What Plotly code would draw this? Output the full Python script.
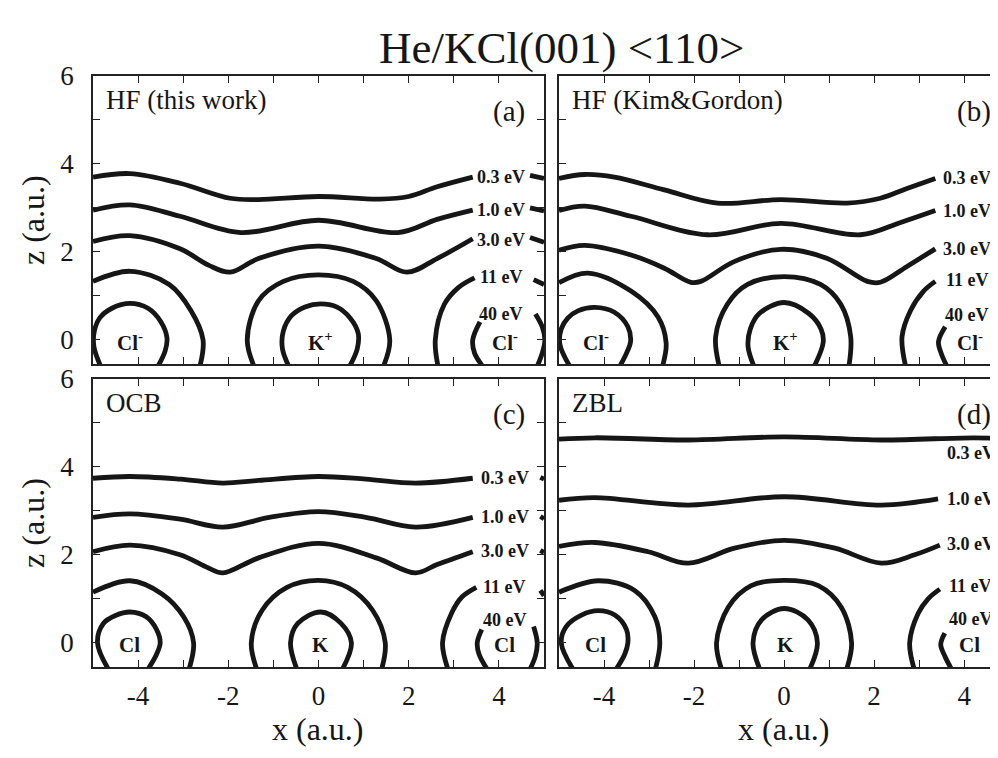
import plotly.graph_objects as go

# ---------------- data (x, z in a.u.) ----------------
X_TICKS = [-4, -2, 0, 2, 4]
X_TICKTEXT = ['-4', '-2', '0', '2', '4']
X_MINOR = [-3, -1, 1, 3]
Z_TICKS = [0, 2, 4, 6]
Z_TICKTEXT = ['0', '2', '4', '6']
Z_MINOR = [1, 3, 5]

ENERGY_LABELS = ['0.3 eV', '1.0 eV', '3.0 eV', '11 eV', '40 eV']
PANEL_NAMES = ['HF (this work)', 'HF (Kim&Gordon)', 'OCB', 'ZBL']
PANEL_TAGS = ['(a)', '(b)', '(c)', '(d)']
IONS_CHARGED = ['Cl<sup>-</sup>', 'K<sup>+</sup>', 'Cl<sup>-</sup>']
IONS_NEUTRAL = ['Cl', 'K', 'Cl']
ION_X = [-4.18, 0.04, 4.13]

# Panel (a) HF (this work)
A_E03 = [(-5.0, 3.70), (-4.18, 3.78), (-3.07, 3.56), (-1.96, 3.22), (-1.33, 3.19), (0.0, 3.26),
         (1.36, 3.20), (2.0, 3.26), (2.63, 3.48), (3.42, 3.70)]
A_E03_END = [(4.69, 3.74), (5.0, 3.67)]
A_E1 = [(-5.0, 2.95), (-4.18, 3.07), (-3.07, 2.81), (-1.73, 2.44), (0.0, 2.72), (1.76, 2.44),
        (2.63, 2.74), (3.42, 2.95)]
A_E1_END = [(4.69, 3.0), (5.0, 2.93)]
A_E3 = [(-5.0, 2.24), (-4.18, 2.37), (-3.07, 2.07), (-2.44, 1.70), (-1.96, 1.54), (-1.33, 1.85),
        (0.0, 2.13), (1.28, 1.85), (1.96, 1.54), (2.63, 1.85), (3.42, 2.30)]
A_E3_END = [(4.69, 2.33), (5.0, 2.22)]
A_E11_L = [(-5.0, 1.33), (-4.18, 1.56), (-3.31, 1.26), (-2.83, 0.67), (-2.56, 0.0), (-2.63, -0.6)]
A_E11_K = [(-1.43, -0.6), (-1.58, 0.0), (-1.33, 0.89), (-0.78, 1.33), (0.0, 1.48), (0.77, 1.33),
           (1.28, 0.89), (1.58, 0.0), (1.44, -0.6)]
A_E11_R = [(2.65, -0.6), (2.59, 0.0), (2.79, 0.81), (3.10, 1.19), (3.46, 1.41)]
A_E11_END = [(4.77, 1.37), (5.0, 1.26)]
A_E40_L = [(-4.83, -0.6), (-4.98, -0.15), (-4.97, 0.2), (-4.85, 0.5), (-4.58, 0.72), (-4.18, 0.83),
           (-3.78, 0.72), (-3.5, 0.42), (-3.36, 0.05), (-3.4, -0.25), (-3.56, -0.6)]
A_E40_K = [(-0.66, -0.6), (-0.8, -0.2), (-0.78, 0.2), (-0.6, 0.55), (-0.3, 0.75), (0.05, 0.82),
           (0.4, 0.75), (0.7, 0.5), (0.88, 0.15), (0.86, -0.2), (0.69, -0.6)]
A_E40_R1 = [(3.58, 0.41), (3.42, 0.0), (3.46, -0.3), (3.64, -0.6)]
A_E40_R2 = [(4.81, 0.59), (4.96, 0.3), (5.02, 0.0), (4.96, -0.3), (4.85, -0.6)]
A_LABEL_X = 4.05
A_LABEL_Z = [3.70, 2.96, 2.27, 1.44, 0.59]

# Panel (b) HF (Kim&Gordon)
B_E03 = [(-5.0, 3.67), (-4.43, 3.76), (-3.77, 3.70), (-2.66, 3.41), (-1.48, 3.11), (-0.07, 3.19),
         (1.40, 3.11), (2.14, 3.22), (2.73, 3.44), (3.36, 3.67)]
B_E03_END = [(4.69, 3.70), (4.95, 3.64)]
B_E1 = [(-5.0, 2.94), (-4.43, 3.04), (-3.4, 2.81), (-1.70, 2.39), (-0.07, 2.65), (1.70, 2.39),
        (2.59, 2.67), (3.36, 2.94)]
B_E1_END = [(4.69, 2.96), (4.95, 2.90)]
B_E3 = [(-5.0, 2.04), (-4.43, 2.15), (-3.4, 1.93), (-2.66, 1.63), (-2.07, 1.31), (-1.85, 1.33),
        (-1.11, 1.78), (-0.07, 2.06), (0.96, 1.85), (1.85, 1.33), (2.14, 1.31), (2.73, 1.67),
        (3.36, 2.07)]
B_E3_END = [(4.69, 2.07), (4.95, 2.0)]
B_E11_L = [(-5.0, 1.30), (-4.36, 1.52), (-3.4, 1.11), (-2.8, 0.52), (-2.62, -0.07), (-2.7, -0.6)]
B_E11_K = [(-1.44, -0.6), (-1.52, 0.07), (-1.26, 0.81), (-0.81, 1.26), (0.0, 1.44), (0.81, 1.26),
           (1.26, 0.81), (1.48, 0.07), (1.44, -0.6)]
B_E11_R = [(2.70, -0.6), (2.62, 0.07), (2.81, 0.67), (3.1, 1.11), (3.36, 1.33)]
B_E11_END = [(4.69, 1.41), (4.95, 1.28)]
B_E40_L = [(-4.76, -0.6), (-4.98, -0.1), (-4.95, 0.25), (-4.8, 0.5), (-4.58, 0.66), (-4.21, 0.74),
           (-3.77, 0.63), (-3.47, 0.3), (-3.41, -0.04), (-3.5, -0.3), (-3.65, -0.6)]
B_E40_K = [(-0.67, -0.6), (-0.8, -0.15), (-0.75, 0.25), (-0.55, 0.6), (0.0, 0.85), (0.55, 0.6),
           (0.82, 0.25), (0.87, -0.05), (0.67, -0.6)]
B_E40_R1 = [(3.58, 0.30), (3.43, -0.04), (3.5, -0.33), (3.62, -0.6)]
B_E40_R2 = [(4.77, 0.52), (4.91, 0.15), (4.93, -0.2), (4.85, -0.6)]
B_LABEL_X = 4.07
B_LABEL_Z = [3.67, 2.94, 2.07, 1.37, 0.56]

# Panel (c) OCB
C_E03 = [(-5.0, 3.74), (-4.18, 3.78), (-3.07, 3.72), (-2.12, 3.63), (-1.33, 3.69), (0.0, 3.78),
         (1.05, 3.72), (2.15, 3.63), (3.42, 3.74)]
C_E03_END = [(4.92, 3.76), (5.0, 3.72)]
C_E1 = [(-5.0, 2.85), (-4.18, 2.93), (-3.07, 2.81), (-2.12, 2.63), (-1.09, 2.85), (0.0, 2.98),
        (1.05, 2.85), (2.15, 2.63), (3.42, 2.85)]
C_E1_END = [(4.92, 2.87), (5.0, 2.82)]
C_E3 = [(-5.0, 2.07), (-4.18, 2.22), (-3.07, 2.0), (-2.44, 1.70), (-2.12, 1.59), (-1.33, 1.93),
        (0.0, 2.26), (1.28, 1.93), (2.15, 1.59), (2.63, 1.78), (3.42, 2.07)]
C_E3_END = [(4.92, 2.10), (5.0, 2.05)]
C_E11_L = [(-5.0, 1.15), (-4.18, 1.41), (-3.47, 1.11), (-2.99, 0.59), (-2.77, 0.0), (-2.87, -0.6)]
C_E11_K = [(-1.37, -0.6), (-1.49, 0.0), (-1.25, 0.74), (-0.7, 1.26), (0.0, 1.42), (0.65, 1.26),
           (1.2, 0.74), (1.48, 0.0), (1.4, -0.6)]
C_E11_R = [(2.87, -0.6), (2.75, 0.0), (2.95, 0.67), (3.18, 1.04), (3.5, 1.26)]
C_E11_END = [(4.92, 1.19), (5.0, 1.07)]
C_E40_L = [(-4.66, -0.6), (-4.9, 0.0), (-4.77, 0.44), (-4.5, 0.62), (-4.18, 0.70), (-3.82, 0.59),
           (-3.59, 0.3), (-3.51, 0.0), (-3.59, -0.26), (-3.78, -0.6)]
C_E40_K = [(-0.48, -0.6), (-0.62, 0.0), (-0.46, 0.44), (0.05, 0.70), (0.5, 0.44), (0.73, 0.0),
           (0.53, -0.6)]
C_E40_R1 = [(3.62, 0.3), (3.52, 0.0), (3.56, -0.26), (3.74, -0.6)]
C_E40_R2 = [(4.77, 0.37), (4.85, 0.0), (4.81, -0.3), (4.69, -0.6)]
C_LABEL_X = 4.13
C_LABEL_Z = [3.74, 2.85, 2.09, 1.26, 0.52]

# Panel (d) ZBL
D_E03 = [(-5.0, 4.63), (-4.2, 4.66), (-2.13, 4.61), (0.0, 4.68), (2.16, 4.61), (4.2, 4.66),
         (4.93, 4.64)]
D_E1 = [(-5.0, 3.24), (-4.21, 3.30), (-2.13, 3.13), (0.0, 3.32), (2.16, 3.13), (3.42, 3.27)]
D_E1_END = [(4.85, 3.27), (4.93, 3.26)]
D_E3 = [(-5.0, 2.19), (-4.21, 2.28), (-3.02, 2.07), (-2.13, 1.81), (-1.1, 2.15), (0.0, 2.33),
        (1.13, 2.15), (2.16, 1.81), (2.9, 2.0), (3.46, 2.22)]
D_E3_END = [(4.85, 2.24), (4.93, 2.20)]
D_E11_L = [(-5.0, 1.15), (-4.13, 1.41), (-3.32, 1.19), (-2.87, 0.59), (-2.76, 0.0), (-2.86, -0.6)]
D_E11_K = [(-1.39, -0.6), (-1.5, 0.0), (-1.24, 0.81), (-0.73, 1.3), (0.0, 1.42), (0.76, 1.3),
           (1.27, 0.81), (1.5, 0.0), (1.39, -0.6)]
D_E11_R = [(2.89, -0.6), (2.79, 0.0), (2.98, 0.67), (3.2, 1.0), (3.46, 1.22)]
D_E11_END = [(4.85, 1.25), (4.93, 1.15)]
D_E40_L = [(-4.69, -0.6), (-4.95, 0.0), (-4.84, 0.37), (-4.5, 0.63), (-4.13, 0.73), (-3.76, 0.63),
           (-3.5, 0.3), (-3.47, 0.0), (-3.54, -0.26), (-3.73, -0.6)]
D_E40_K = [(-0.54, -0.6), (-0.69, 0.0), (-0.5, 0.52), (0.0, 0.78), (0.53, 0.52), (0.74, 0.0),
           (0.57, -0.6)]
D_E40_R1 = [(3.57, 0.22), (3.48, -0.04), (3.57, -0.3), (3.72, -0.6)]
D_E40_R2 = [(4.87, 0.3), (4.95, 0.0), (4.87, -0.22), (4.72, -0.6)]
D_LABEL_X = 4.15
D_LABEL_Z = [4.31, 3.26, 2.24, 1.30, 0.53]

# ---------------- figure ----------------
W, H = 998, 758
INK = '#161616'
FRAME = '#222222'
SERIF = 'Liberation Serif, Times New Roman, serif'


def px(v):
    return v / W


def py(v):
    return 1 - v / H


panels = [
    dict(ax='', curves=[A_E03, A_E03_END, A_E1, A_E1_END, A_E3, A_E3_END, A_E11_L, A_E11_K, A_E11_R,
                        A_E11_END, A_E40_L, A_E40_K, A_E40_R1, A_E40_R2],
         lx=A_LABEL_X, lz=A_LABEL_Z, ions=IONS_CHARGED, right=False,
         xdom=[px(85), px(536)], ydom=[py(348), py(54)], xr=[-5, 5], showx=False, showy=True),
    dict(ax='2', curves=[B_E03, B_E03_END, B_E1, B_E1_END, B_E3, B_E3_END, B_E11_L, B_E11_K, B_E11_R,
                         B_E11_END, B_E40_L, B_E40_K, B_E40_R1, B_E40_R2],
         lx=B_LABEL_X, lz=B_LABEL_Z, ions=IONS_CHARGED, right=True,
         xdom=[px(551), 1.0], ydom=[py(348), py(54)], xr=[-5, 4.93], showx=False, showy=False),
    dict(ax='3', curves=[C_E03, C_E03_END, C_E1, C_E1_END, C_E3, C_E3_END, C_E11_L, C_E11_K, C_E11_R,
                         C_E11_END, C_E40_L, C_E40_K, C_E40_R1, C_E40_R2],
         lx=C_LABEL_X, lz=C_LABEL_Z, ions=IONS_NEUTRAL, right=False,
         xdom=[px(85), px(536)], ydom=[py(657), py(363)], xr=[-5, 5], showx=True, showy=True),
    dict(ax='4', curves=[D_E03, D_E1, D_E1_END, D_E3, D_E3_END, D_E11_L, D_E11_K, D_E11_R,
                         D_E11_END, D_E40_L, D_E40_K, D_E40_R1, D_E40_R2],
         lx=D_LABEL_X, lz=D_LABEL_Z, ions=IONS_NEUTRAL, right=True,
         xdom=[px(551), 1.0], ydom=[py(657), py(363)], xr=[-5, 4.93], showx=True, showy=False),
]

fig = go.Figure()
annotations = []
layout = dict(
    width=W, height=H, margin=dict(l=0, r=0, t=0, b=0),
    paper_bgcolor='white', plot_bgcolor='white', showlegend=False,
    font=dict(family=SERIF, color=INK),
)

TICKSTYLE = dict(ticks='inside', ticklen=7, tickwidth=1.3, tickcolor=FRAME)

extra_axis = 5
for i, p in enumerate(panels):
    xa, ya = 'x' + p['ax'], 'y' + p['ax']
    for c in p['curves']:
        fig.add_trace(go.Scatter(
            x=[pt[0] for pt in c], y=[pt[1] for pt in c], xaxis=xa, yaxis=ya,
            mode='lines', line=dict(color=INK, width=4.8, shape='spline', smoothing=1.0),
            hoverinfo='skip'))
    axis_common = dict(TICKSTYLE, showline=True, linecolor=FRAME, linewidth=1.5,
                       showgrid=False, zeroline=False,
                       tickfont=dict(family=SERIF, size=27, color=INK))
    layout['xaxis' + p['ax']] = dict(axis_common, mirror='ticks', domain=p['xdom'], range=p['xr'],
                                     anchor=ya, tickmode='array', tickvals=X_TICKS,
                                     ticktext=X_TICKTEXT, showticklabels=p['showx'],
                                     ticklabelstandoff=4,
                                     minor=dict(TICKSTYLE, tickvals=X_MINOR, showgrid=False))
    layout['yaxis' + p['ax']] = dict(axis_common, mirror=(False if p['right'] else 'ticks'),
                                     domain=p['ydom'], range=[-0.55, 6], anchor=xa,
                                     tickmode='array', tickvals=Z_TICKS, ticktext=Z_TICKTEXT,
                                     showticklabels=p['showy'], ticklabelstandoff=12,
                                     minor=dict(TICKSTYLE, tickvals=Z_MINOR, showgrid=False))
    if p['right']:
        # right-hand tick stubs at the cut edge of the panel (no frame line there)
        layout['yaxis%d' % extra_axis] = dict(TICKSTYLE, overlaying=ya, side='right', anchor=xa,
                                              range=[-0.55, 6], showline=False, showgrid=False,
                                              zeroline=False, tickmode='array',
                                              tickvals=Z_TICKS, showticklabels=False,
                                              minor=dict(TICKSTYLE, tickvals=Z_MINOR,
                                                         showgrid=False))
        extra_axis += 1
    # contour energy labels
    for txt, z in zip(ENERGY_LABELS, p['lz']):
        annotations.append(dict(x=p['lx'], y=z, xref=xa, yref=ya, text='<b>' + txt + '</b>',
                                showarrow=False, font=dict(family=SERIF, size=18, color=INK),
                                xanchor='center', yanchor='middle'))
    # ion labels
    for txt, x in zip(p['ions'], ION_X):
        annotations.append(dict(x=x, y=-0.04, xref=xa, yref=ya, text='<b>' + txt + '</b>',
                                showarrow=False, font=dict(family=SERIF, size=21, color=INK),
                                xanchor='center', yanchor='middle'))
    # panel name and tag
    annotations.append(dict(x=-4.75, y=5.45, xref=xa, yref=ya, text=PANEL_NAMES[i], showarrow=False,
                            font=dict(family=SERIF, size=27, color=INK), xanchor='left',
                            yanchor='middle'))
    annotations.append(dict(x=4.22, y=5.2, xref=xa, yref=ya, text=PANEL_TAGS[i], showarrow=False,
                            font=dict(family=SERIF, size=29, color=INK), xanchor='center',
                            yanchor='middle'))

# title and axis titles
annotations.append(dict(x=px(553), y=py(25), xref='paper', yref='paper',
                        text='He/KCl(001) &lt;110&gt;', showarrow=False,
                        font=dict(family=SERIF, size=45, color=INK),
                        xanchor='center', yanchor='middle'))
for yc in (py(201), py(510)):
    annotations.append(dict(x=px(25), y=yc, xref='paper', yref='paper', text='z (a.u.)',
                            textangle=-90, showarrow=False,
                            font=dict(family=SERIF, size=32, color=INK),
                            xanchor='center', yanchor='middle'))
for xc in (px(310), px(776)):
    annotations.append(dict(x=xc, y=py(720), xref='paper', yref='paper', text='x (a.u.)',
                            showarrow=False, font=dict(family=SERIF, size=32, color=INK),
                            xanchor='center', yanchor='middle'))

layout['annotations'] = annotations
fig.update_layout(**layout)
fig.write_html('out.html')
